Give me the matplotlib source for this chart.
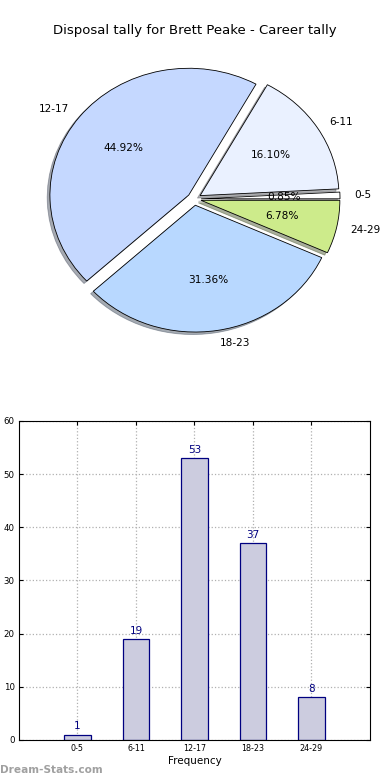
import matplotlib
matplotlib.use("Agg")
import matplotlib.pyplot as plt
import numpy as np

categories = ["0-5", "6-11", "12-17", "18-23", "24-29"]
counts = [1, 19, 53, 37, 8]
slice_colors = ["#ffffff", "#eaf1ff", "#c5d8ff", "#b8d8ff", "#cdeb8b"]
title = "Disposal tally for Brett Peake - Career tally"

fig = plt.figure(figsize=(3.9, 7.8), dpi=100)

# pie, drawn the old way: stretched to the axes box, not kept round
pie_ax = fig.add_axes([0.053, 0.5417, 0.890, 0.4064])
pie_ax.pie(
    counts,
    labels=categories,
    colors=slice_colors,
    explode=[0.05] * len(counts),
    autopct="%1.2f%%",
    shadow={"ox": -0.014, "oy": -0.014, "shade": 0.6},
    wedgeprops={"edgecolor": "black", "linewidth": 0.6},
    textprops={"fontsize": 7.6},
)
pie_ax.set_aspect("auto")
pie_ax.set_xlim(-1.25, 1.25)
pie_ax.set_ylim(-1.25, 1.25)
fig.text(0.5, 0.961, title, ha="center", va="center", fontsize=9.5)

# bar chart
bar_ax = fig.add_axes([0.0487, 0.0513, 0.9, 0.409])
x = np.arange(len(categories))
bar_ax.bar(x, counts, width=0.45, color="#ccccdf", edgecolor="#000080", linewidth=0.9, zorder=2)
for xi, c in zip(x, counts):
    bar_ax.text(xi, c + 0.6, str(c), ha="center", va="bottom", fontsize=7.5, color="#000080")
bar_ax.set_xlim(-1, 5)
bar_ax.set_ylim(0, 60)
bar_ax.set_xticks(x)
bar_ax.set_xticklabels(categories)
bar_ax.set_yticks(range(0, 61, 10))
bar_ax.tick_params(direction="in", top=True, right=True, labelsize=5.8, length=3, pad=3)
bar_ax.tick_params(axis="y", labelsize=6.2)
bar_ax.grid(True, linestyle=":", color="#b0b0b0", linewidth=0.9, zorder=0)
bar_ax.set_xlabel("Frequency", fontsize=7.5, labelpad=2)

fig.text(0.0, 0.013, "Dream-Stats.com", ha="left", va="center", fontsize=7.6, color="#a0a0a0", fontweight="bold")

fig.savefig("out.png", dpi=100)
